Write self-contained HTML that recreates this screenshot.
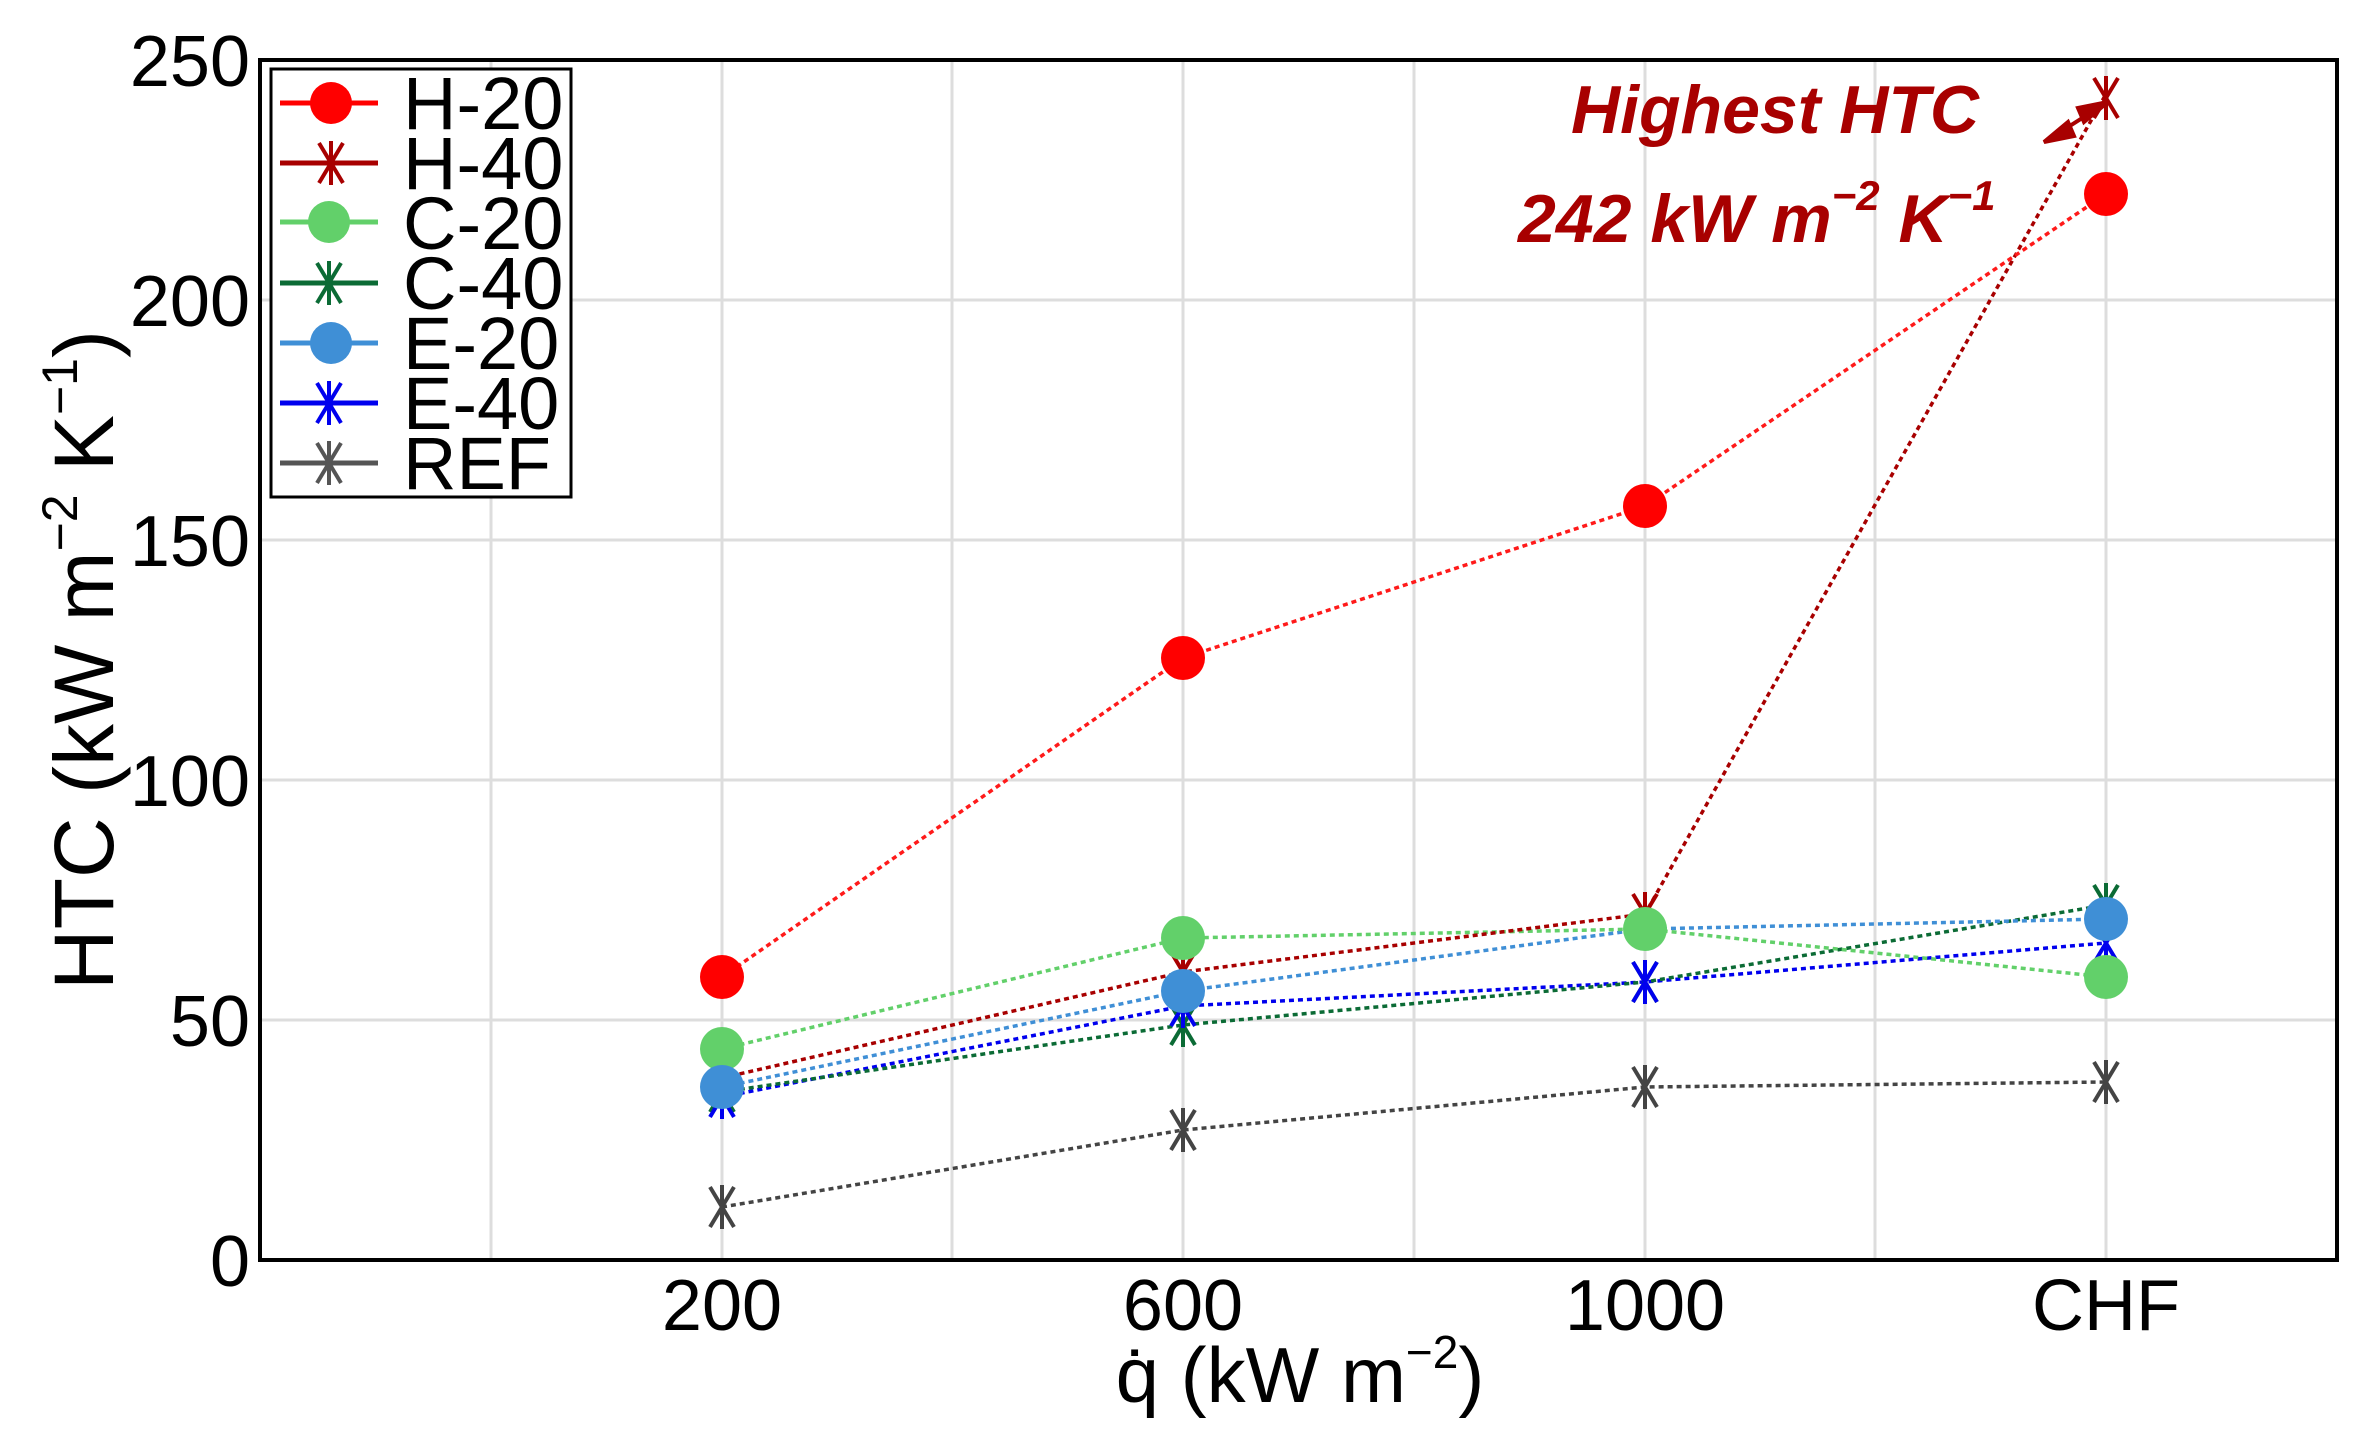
<!DOCTYPE html>
<html><head><meta charset="utf-8"><style>
html,body{margin:0;padding:0;background:#fff;}
svg{display:block;font-family:"Liberation Sans",Arial,sans-serif;}
</style></head><body>
<svg width="2362" height="1440" viewBox="0 0 2362 1440" xmlns="http://www.w3.org/2000/svg">
<defs>
<g id="ast"><line x1="0" y1="-22" x2="0" y2="22"/><line x1="-12" y1="-20" x2="12" y2="20"/><line x1="12" y1="-20" x2="-12" y2="20"/></g>
</defs>
<rect width="2362" height="1440" fill="#fff"/>
<g stroke="#dddddd" stroke-width="3">
<line x1="491" y1="60" x2="491" y2="1260"/><line x1="722" y1="60" x2="722" y2="1260"/>
<line x1="952" y1="60" x2="952" y2="1260"/><line x1="1183" y1="60" x2="1183" y2="1260"/>
<line x1="1414" y1="60" x2="1414" y2="1260"/><line x1="1645" y1="60" x2="1645" y2="1260"/>
<line x1="1875" y1="60" x2="1875" y2="1260"/><line x1="2106" y1="60" x2="2106" y2="1260"/>
<line x1="260" y1="300" x2="2337" y2="300"/><line x1="260" y1="540" x2="2337" y2="540"/>
<line x1="260" y1="780" x2="2337" y2="780"/><line x1="260" y1="1020" x2="2337" y2="1020"/>
</g>
<g fill="none" stroke-width="3.5" stroke-dasharray="5 4">
<polyline stroke="#444" points="722,1207 1183,1130 1645,1087 2106,1082"/>
<polyline stroke="#0000ee" points="722,1097 1183,1006 1645,982 2106,943"/>
<polyline stroke="#0b6b35" points="722,1092 1183,1025 1645,982 2106,905"/>
<polyline stroke="#3f8fd6" points="722,1087 1183,991 1645,929 2106,919"/>
<polyline stroke="#62d06a" points="722,1049 1183,938 1645,929 2106,977"/>
<polyline stroke="#a80000" points="722,1078 1183,972 1645,914 2106,94"/>
<polyline stroke="#ff1a1a" points="722,977 1183,658 1645,506 2106,194"/>
</g>
<g stroke="#444" stroke-width="4"><use href="#ast" x="722" y="1207"/><use href="#ast" x="1183" y="1130"/><use href="#ast" x="1645" y="1087"/><use href="#ast" x="2106" y="1082"/></g>
<g stroke="#0b6b35" stroke-width="4"><use href="#ast" x="722" y="1092"/><use href="#ast" x="1183" y="1025"/><use href="#ast" x="1645" y="982"/><use href="#ast" x="2106" y="905"/></g>
<g stroke="#a80000" stroke-width="4"><use href="#ast" x="722" y="1078"/><use href="#ast" x="1183" y="972"/><use href="#ast" x="1645" y="914"/><use href="#ast" x="2106" y="98"/></g>
<g stroke="#0000ee" stroke-width="4"><use href="#ast" x="722" y="1097"/><use href="#ast" x="1183" y="1006"/><use href="#ast" x="1645" y="982"/><use href="#ast" x="2106" y="943"/></g>
<g fill="#62d06a"><circle cx="722" cy="1049" r="22"/><circle cx="1183" cy="938" r="22"/><circle cx="1645" cy="929" r="22"/><circle cx="2106" cy="977" r="22"/></g>
<g fill="#3f8fd6"><circle cx="722" cy="1087" r="22"/><circle cx="1183" cy="991" r="22"/><circle cx="2106" cy="919" r="22"/></g>
<g fill="#ff0000"><circle cx="722" cy="977" r="22"/><circle cx="1183" cy="658" r="22"/><circle cx="1645" cy="506" r="22"/><circle cx="2106" cy="194" r="22"/></g>
<rect x="260" y="60" width="2077" height="1200" fill="none" stroke="#000" stroke-width="4"/>
<g font-size="72" text-anchor="end" fill="#000">
<text x="250" y="86">250</text><text x="250" y="326">200</text><text x="250" y="566">150</text>
<text x="250" y="806">100</text><text x="250" y="1046">50</text><text x="250" y="1286">0</text>
</g>
<g font-size="72" text-anchor="middle" fill="#000">
<text x="722" y="1330">200</text><text x="1183" y="1330">600</text><text x="1645" y="1330">1000</text><text x="2106" y="1330">CHF</text>
</g>
<text x="1300" y="1402" font-size="78" text-anchor="middle">q̇ (kW m<tspan font-size="46" dy="-34">−2</tspan><tspan dy="34">)</tspan></text>
<text transform="translate(113,660) rotate(-90)" font-size="84" text-anchor="middle">HTC (kW m<tspan font-size="50" dy="-36">−2</tspan><tspan dy="36"> K</tspan><tspan font-size="50" dy="-36">−1</tspan><tspan dy="36">)</tspan></text>
<rect x="271" y="69" width="300" height="428" fill="#fff" stroke="#000" stroke-width="3"/>
<g stroke-width="5">
<line x1="280" y1="103" x2="378" y2="103" stroke="#ff0000"/><circle cx="331" cy="103" r="21" fill="#ff0000"/>
<line x1="280" y1="163" x2="378" y2="163" stroke="#a80000"/><use href="#ast" x="331" y="163" stroke="#a80000" stroke-width="4"/>
<line x1="280" y1="222" x2="378" y2="222" stroke="#62d06a"/><circle cx="329" cy="222" r="21" fill="#62d06a"/>
<line x1="280" y1="283" x2="378" y2="283" stroke="#0b6b35"/><use href="#ast" x="329" y="283" stroke="#0b6b35" stroke-width="4"/>
<line x1="280" y1="343" x2="378" y2="343" stroke="#3f8fd6"/><circle cx="331" cy="343" r="21" fill="#3f8fd6"/>
<line x1="280" y1="403" x2="378" y2="403" stroke="#0000ee"/><use href="#ast" x="329" y="403" stroke="#0000ee" stroke-width="4"/>
<line x1="280" y1="463" x2="378" y2="463" stroke="#555"/><use href="#ast" x="329" y="463" stroke="#555" stroke-width="4"/>
</g>
<g font-size="74" fill="#000">
<text x="403" y="129">H-20</text><text x="403" y="189">H-40</text><text x="403" y="249">C-20</text>
<text x="403" y="309">C-40</text><text x="403" y="369">E-20</text><text x="403" y="429">E-40</text><text x="403" y="489">REF</text>
</g>
<g fill="#a80000" font-weight="bold" font-style="italic">
<text x="1775" y="133" font-size="68" text-anchor="middle">Highest HTC</text>
<text x="1518" y="242" font-size="68">242 kW m<tspan font-size="42" dy="-32">−2</tspan><tspan dy="32"> K</tspan><tspan font-size="42" dy="-32">−1</tspan></text>
</g>
<g stroke="#a80000" stroke-width="4" fill="#a80000">
<line x1="2054" y1="136" x2="2098" y2="108"/>
<polygon points="2044,142 2068,122 2074,136"/>
<polygon points="2108,102 2084,122 2078,108"/>
</g>
</svg>
</body></html>
